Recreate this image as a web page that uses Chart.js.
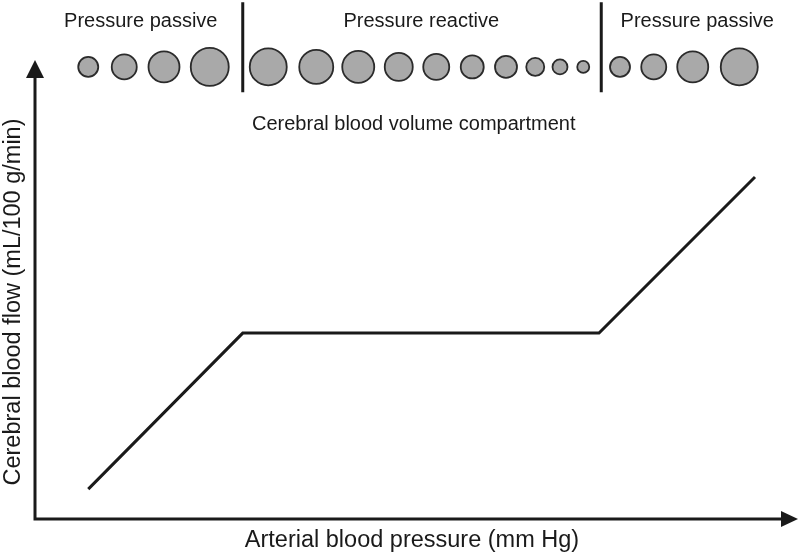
<!DOCTYPE html>
<html>
<head>
<meta charset="utf-8">
<script src="https://cdn.jsdelivr.net/npm/chart.js@4/dist/chart.umd.min.js"></script>
<style>
  html, body { margin: 0; padding: 0; background: #ffffff; }
  #wrap { width: 800px; height: 553px; position: relative; }
</style>
</head>
<body>
<div id="wrap"><canvas id="c" width="800" height="553"></canvas></div>
<script>
// ---- Data (arbitrary units) ----
const flowX = [7.1, 27.7, 75.2, 96.0];
const flowY = [6.5, 40.5, 40.5, 74.5];

const vesselX = [7.1, 11.9, 17.2, 23.3, 31.1, 37.5, 43.1, 48.5, 53.5, 58.3, 62.8, 66.7, 70.0, 73.1, 78.0, 82.5, 87.7, 93.9];
const vesselR = [10, 12.5, 15.5, 19, 18.5, 17, 16, 14, 13, 11.5, 11, 9, 7.5, 6, 10, 12.5, 15.5, 18.5];
const vesselLevel = 98.5;

const zoneBounds = [27.7, 75.5];
const zoneBoundTop = 112.6;
const zoneBoundBottom = 93.0;

const zoneLabels = ["Pressure passive", "Pressure reactive", "Pressure passive"];
const zoneLabelX = [14.1, 51.5, 88.3];
const zoneLabelY = 108.5;

const compartmentLabel = "Cerebral blood volume compartment";
const compartmentX = 50.5;
const compartmentY = 86.0;

const xTitle = "Arterial blood pressure (mm Hg)";
const yTitle = "Cerebral blood flow (mL/100 g/min)";

// ---- Build datasets ----
const lineData = flowX.map((x, i) => ({ x: x, y: flowY[i] }));
const bubbleData = vesselX.map((x, i) => ({ x: x, y: vesselLevel, r: vesselR[i] }));
const boundSets = zoneBounds.map(b => ({
  type: 'line',
  data: [{ x: b, y: zoneBoundTop }, { x: b, y: zoneBoundBottom }],
  borderColor: '#1a1a1a',
  borderWidth: 3,
  pointRadius: 0,
  clip: false,
  borderCapStyle: 'butt'
}));

const FONT = '"Liberation Sans", Arial, Helvetica, sans-serif';

const decor = {
  id: 'decor',
  afterDatasetsDraw(chart) {
    const ctx = chart.ctx;
    const a = chart.chartArea;
    const xs = chart.scales.x, ys = chart.scales.y;
    const axisRight = 785;
    ctx.save();
    // axes
    ctx.strokeStyle = '#1a1a1a';
    ctx.fillStyle = '#1a1a1a';
    ctx.lineWidth = 3;
    ctx.lineCap = 'butt';
    ctx.beginPath();
    ctx.moveTo(a.left, a.top + 14);
    ctx.lineTo(a.left, a.bottom);
    ctx.lineTo(axisRight, a.bottom);
    ctx.stroke();
    // y arrow
    ctx.beginPath();
    ctx.moveTo(a.left, a.top);
    ctx.lineTo(a.left - 9, a.top + 18);
    ctx.lineTo(a.left + 9, a.top + 18);
    ctx.closePath();
    ctx.fill();
    // x arrow
    ctx.beginPath();
    ctx.moveTo(798, a.bottom);
    ctx.lineTo(781, a.bottom - 8);
    ctx.lineTo(781, a.bottom + 8);
    ctx.closePath();
    ctx.fill();

    // texts
    ctx.fillStyle = '#1a1a1a';
    ctx.textAlign = 'center';
    ctx.textBaseline = 'middle';
    ctx.font = '20px ' + FONT;
    zoneLabels.forEach((t, i) => {
      ctx.fillText(t, xs.getPixelForValue(zoneLabelX[i]), ys.getPixelForValue(zoneLabelY));
    });
    ctx.font = '20px ' + FONT;
    ctx.fillText(compartmentLabel, xs.getPixelForValue(compartmentX), ys.getPixelForValue(compartmentY));
    ctx.font = '23.5px ' + FONT;
    ctx.fillText(xTitle, 412, 541);
    ctx.save();
    ctx.translate(14, 302);
    ctx.rotate(-Math.PI / 2);
    ctx.fillText(yTitle, 0, 0);
    ctx.restore();
    ctx.restore();
  }
};

new Chart(document.getElementById('c'), {
  type: 'line',
  data: {
    datasets: [
      {
        type: 'line',
        data: lineData,
        borderColor: '#1a1a1a',
        borderWidth: 3,
        pointRadius: 0,
        tension: 0,
        borderJoinStyle: 'miter'
      },
      {
        type: 'bubble',
        data: bubbleData,
        backgroundColor: '#a9a9a9',
        borderColor: '#2b2b2b',
        borderWidth: 1.8,
        clip: false
      },
      ...boundSets
    ]
  },
  options: {
    responsive: false,
    animation: false,
    events: [],
    layout: { autoPadding: false, padding: { left: 35, top: 60, right: 15, bottom: 34 } },
    plugins: { legend: { display: false }, tooltip: { enabled: false } },
    scales: {
      x: { type: 'linear', min: 0, max: 100, display: false },
      y: { type: 'linear', min: 0, max: 100, display: false }
    }
  },
  plugins: [decor]
});
</script>
</body>
</html>
